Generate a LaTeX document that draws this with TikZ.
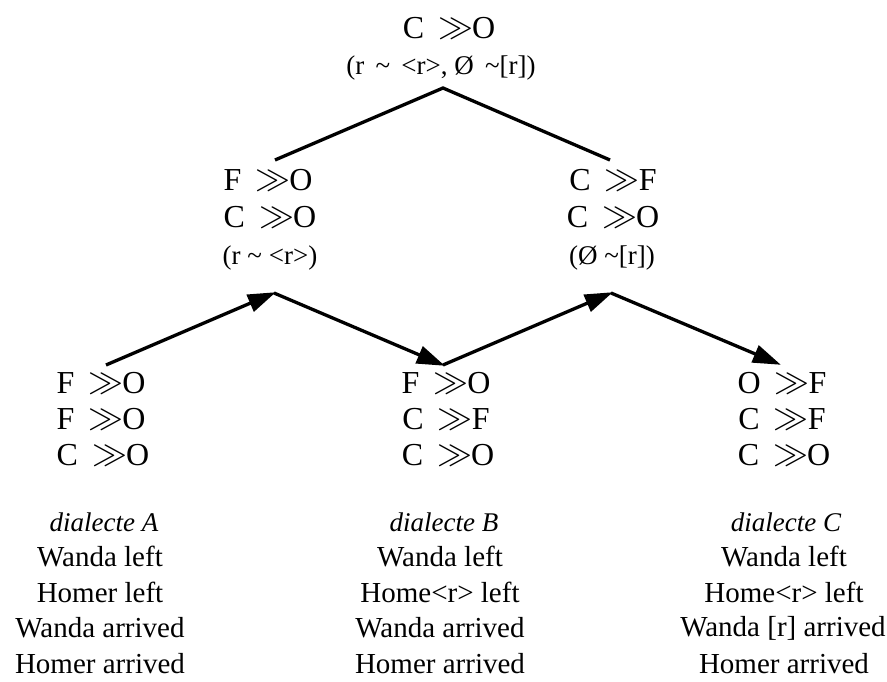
\documentclass[tikz,border=0pt]{standalone}
\usepackage{fontspec}
\setmainfont{Liberation Serif}
\usetikzlibrary{arrows.meta}
\newcommand{\tld}{\textasciitilde}
\newcommand{\rel}[2]{#1\;\,\raisebox{0.5pt}{\scalebox{1.4}{$\gg$}}\kern-1pt#2}
\begin{document}
\begin{tikzpicture}[x=1pt,y=-1pt,
  relt/.style={font=\fontsize{32}{36}\selectfont, inner sep=0pt},
  part/.style={font=\fontsize{27}{30}\selectfont, inner sep=0pt},
  ex/.style={font=\fontsize{29}{35}\selectfont, inner sep=0pt},
  exi/.style={font=\fontsize{27}{35}\selectfont\itshape, inner sep=0pt},
  link/.style={line width=3.3pt},
  arr/.style={line width=3.3pt, -{Triangle[length=28pt,width=18pt]}, shorten >=-2pt}]
\useasboundingbox (0,0) rectangle (887,682);
% top
\node[relt] (t1) at (449,28) {\rel{C}{O}};
\node[part] (t2) at (441,68) {(r\, \tld{}\, <r>, Ø\, \tld[r])};
% middle left
\node[relt] (ml1) at (268,180) {\rel{F}{O}};
\node[relt] (ml2) at (270,217) {\rel{C}{O}};
\node[part] (ml3) at (270,258) {(r \tld{} <r>)};
% middle right
\node[relt] (mr1) at (613,180) {\rel{C}{F}};
\node[relt] (mr2) at (613,217) {\rel{C}{O}};
\node[part] (mr3) at (612,258) {(Ø \tld[r])};
% bottom rows
\node[relt] (a1) at (101,383) {\rel{F}{O}};
\node[relt] (a2) at (101,419) {\rel{F}{O}};
\node[relt] (a3) at (103,455) {\rel{C}{O}};
\node[relt] (b1) at (446,383) {\rel{F}{O}};
\node[relt] (b2) at (446,419) {\rel{C}{F}};
\node[relt] (b3) at (448,455) {\rel{C}{O}};
\node[relt] (c1) at (782,383) {\rel{O}{F}};
\node[relt] (c2) at (782,419) {\rel{C}{F}};
\node[relt] (c3) at (784,455) {\rel{C}{O}};
% dialect texts
\node[exi] (da) at (104,522) {dialecte A};
\node[ex] (da1) at (100,557) {Wanda left};
\node[ex] (da2) at (100,592) {Homer left};
\node[ex] (da3) at (100,628) {Wanda arrived};
\node[ex] (da4) at (100,664) {Homer arrived};
\node[exi] (db) at (444,522) {dialecte B};
\node[ex] (db1) at (440,557) {Wanda left};
\node[ex] (db2) at (440,592) {Home<r> left};
\node[ex] (db3) at (440,628) {Wanda arrived};
\node[ex] (db4) at (440,664) {Homer arrived};
\node[exi] (dc) at (786,522) {dialecte C};
\node[ex] (dc1) at (784,557) {Wanda left};
\node[ex] (dc2) at (784,592) {Home<r> left};
\node[ex] (dc3) at (783,628) {Wanda [r] arrived};
\node[ex] (dc4) at (784,664) {Homer arrived};
% connector points
\coordinate (apex) at (443,88);
\coordinate (lt) at (275,160);
\coordinate (rt) at (610,160);
\coordinate (pa) at (106,365);
\coordinate (pl) at (274,293);
\coordinate (pb) at (443,365);
\coordinate (pr) at (611,293);
\coordinate (pc) at (779,364);
\draw[link, line join=miter] (lt) -- (apex) -- (rt);
\draw[arr] (pa) -- (pl);
\draw[arr] (pl) -- (pb);
\draw[arr] (pb) -- (pr);
\draw[arr] (pr) -- (pc);
\end{tikzpicture}
\end{document}
